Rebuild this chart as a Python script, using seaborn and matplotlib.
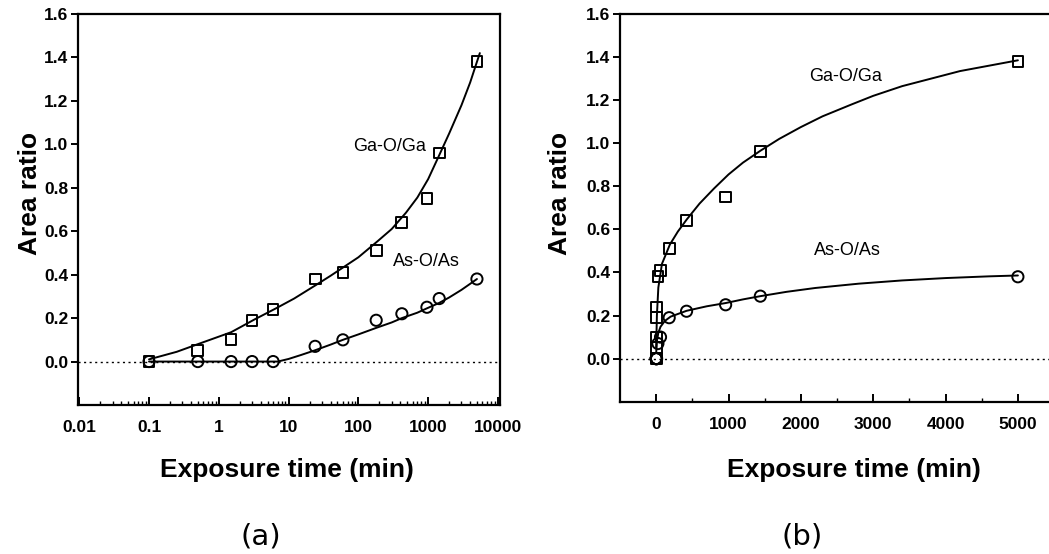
import numpy as np
import pandas as pd
import matplotlib
matplotlib.use("Agg")
import matplotlib.pyplot as plt
import seaborn as sns
from matplotlib.ticker import LogLocator, NullFormatter, FixedLocator, FixedFormatter

# ---------------- data ----------------
time_min = [0.1, 0.5, 1.5, 3, 6, 24, 60, 180, 420, 960, 1440, 5000]
ga_ratio = [0.0, 0.05, 0.10, 0.19, 0.24, 0.38, 0.41, 0.51, 0.64, 0.75, 0.96, 1.38]
as_ratio = [0.0, 0.0, 0.0, 0.0, 0.0, 0.07, 0.10, 0.19, 0.22, 0.25, 0.29, 0.38]

# fitted curves, panel (a) (log time axis)
fit_a_ga_t = [0.1, 0.25, 0.5, 1.5, 3.3, 6.6, 12, 24, 40, 65, 100, 190, 300, 480, 700,
              1000, 1440, 2000, 3000, 4000, 5000, 5500]
fit_a_ga_y = [0.01, 0.045, 0.08, 0.135, 0.195, 0.245, 0.29, 0.35, 0.395, 0.44, 0.48, 0.555,
              0.61, 0.685, 0.755, 0.84, 0.95, 1.05, 1.18, 1.285, 1.38, 1.42]
fit_a_as_t = [0.1, 1, 7, 10, 15, 24, 40, 60, 100, 180, 300, 420, 700, 960, 1440, 2000,
              3000, 4000, 5000]
fit_a_as_y = [0.0, 0.0, 0.0, 0.012, 0.03, 0.052, 0.078, 0.10, 0.125, 0.155, 0.18, 0.20,
              0.225, 0.245, 0.27, 0.295, 0.33, 0.358, 0.38]

# fitted curves, panel (b) (linear time axis)
fit_b_ga_t = [0, 10, 30, 80, 190, 300, 420, 600, 800, 1000, 1200, 1440, 1700, 2000, 2300,
              2700, 3000, 3400, 3800, 4200, 4600, 5000]
fit_b_ga_y = [0.05, 0.20, 0.33, 0.44, 0.53, 0.59, 0.645, 0.72, 0.79, 0.855, 0.91, 0.965,
              1.02, 1.075, 1.125, 1.18, 1.22, 1.265, 1.30, 1.335, 1.36, 1.385]
fit_b_as_t = [0, 10, 30, 60, 120, 200, 420, 700, 960, 1200, 1440, 1800, 2200, 2800, 3400,
              4000, 4600, 5000]
fit_b_as_y = [0.025, 0.08, 0.12, 0.148, 0.175, 0.195, 0.222, 0.243, 0.258, 0.275, 0.29,
              0.31, 0.328, 0.348, 0.363, 0.374, 0.382, 0.386]

y_ticks = [0.0, 0.2, 0.4, 0.6, 0.8, 1.0, 1.2, 1.4, 1.6]
xa_ticks = [0.01, 0.1, 1, 10, 100, 1000, 10000]
xa_labels = ["0.01", "0.1", "1", "10", "100", "1000", "10000"]
xb_ticks = [0, 1000, 2000, 3000, 4000, 5000]

# ---------------- style ----------------
sns.set_theme(style="ticks")
plt.rcParams['font.family'] = ['Liberation Sans', 'DejaVu Sans']
plt.rcParams.update({
    'axes.linewidth': 1.6,
    'text.color': 'black',
    'axes.labelcolor': 'black',
    'axes.edgecolor': 'black',
    'xtick.color': 'black',
    'ytick.color': 'black',
})

W, H = 1049, 554
fig = plt.figure(figsize=(W / 100, H / 100), dpi=100)

def frac_axes(left, right, top, bottom):
    return fig.add_axes([left / W, (H - bottom) / H, (right - left) / W, (bottom - top) / H])

ax_a = frac_axes(78, 500, 14, 405)
ax_b = frac_axes(620, 1049, 14, 401.7)

df = pd.DataFrame({"t": time_min, "ga": ga_ratio, "as": as_ratio})

def draw(ax, ga_t, ga_y, as_t, as_y):
    ax.axhline(0, color="black", lw=1.0, ls=(0, (1.5, 2.5)), zorder=1)
    sns.lineplot(x=ga_t, y=ga_y, ax=ax, color="black", lw=1.4, sort=False, estimator=None, zorder=2)
    sns.lineplot(x=as_t, y=as_y, ax=ax, color="black", lw=1.4, sort=False, estimator=None, zorder=2)
    sns.scatterplot(data=df, x="t", y="ga", ax=ax, marker="s", s=60, facecolors="none",
                    edgecolor="black", linewidth=1.4, zorder=3)
    sns.scatterplot(data=df, x="t", y="as", ax=ax, marker="o", s=65, facecolors="none",
                    edgecolor="black", linewidth=1.4, zorder=3)
    ax.set_ylim(-0.2, 1.6)
    ax.set_yticks(y_ticks)
    ax.set_yticklabels([f"{v:.1f}" for v in y_ticks], fontsize=12.5, fontweight="bold")
    ax.tick_params(axis="y", direction="out", length=5, width=1.4, pad=2)
    ax.tick_params(axis="x", which="major", direction="in", length=6, width=1.4, pad=11)
    ax.tick_params(axis="x", which="minor", direction="in", length=3, width=1.0)
    ax.set_ylabel("Area ratio", fontsize=19, fontweight="bold")
    ax.set_xlabel("Exposure time (min)", fontsize=19, fontweight="bold")

# panel (a)
draw(ax_a, fit_a_ga_t, fit_a_ga_y, fit_a_as_t, fit_a_as_y)
ax_a.set_xscale("log")
ax_a.set_xlim(0.0096, 10700)
ax_a.xaxis.set_major_locator(FixedLocator(xa_ticks))
ax_a.xaxis.set_major_formatter(FixedFormatter(xa_labels))
ax_a.xaxis.set_minor_locator(LogLocator(base=10, subs=np.arange(2, 10)))
ax_a.xaxis.set_minor_formatter(NullFormatter())
for lbl in ax_a.get_xticklabels():
    lbl.set_fontsize(12.5)
    lbl.set_fontweight("bold")
ax_a.text(284, 0.99, "Ga-O/Ga", fontsize=13, ha="center", va="center")
ax_a.text(929, 0.46, "As-O/As", fontsize=13, ha="center", va="center")
ax_a.yaxis.set_label_coords(-0.085, 0.542)
ax_a.xaxis.set_label_coords(0.495, -0.1355)

# panel (b)
draw(ax_b, fit_b_ga_t, fit_b_ga_y, fit_b_as_t, fit_b_as_y)
ax_b.set_xlim(-500, 5430)
ax_b.set_xticks(xb_ticks)
ax_b.set_xticklabels([str(v) for v in xb_ticks], fontsize=12.5, fontweight="bold")
ax_b.xaxis.set_minor_locator(FixedLocator([500, 1500, 2500, 3500, 4500]))
ax_b.spines["right"].set_visible(False)
ax_b.text(2624, 1.31, "Ga-O/Ga", fontsize=13, ha="center", va="center")
ax_b.text(2638, 0.50, "As-O/As", fontsize=13, ha="center", va="center")
ax_b.yaxis.set_label_coords(-0.112, 0.538)
ax_b.xaxis.set_label_coords(0.545, -0.145)

fig.text(261 / W, 1 - 537 / H, "(a)", fontsize=21, ha="center", va="center", family=["DejaVu Sans"])
fig.text(802 / W, 1 - 537 / H, "(b)", fontsize=21, ha="center", va="center", family=["DejaVu Sans"])

fig.savefig("out.png", dpi=100)
